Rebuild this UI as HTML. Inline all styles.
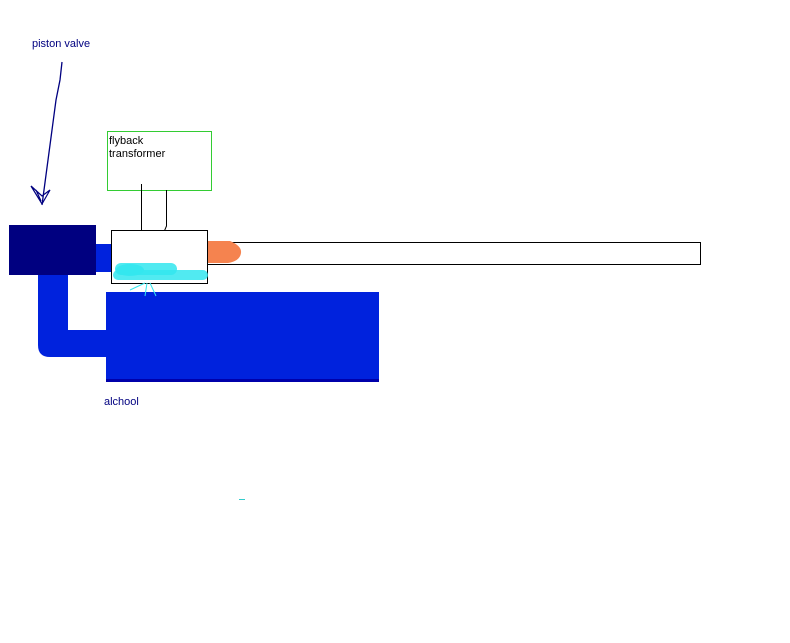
<!DOCTYPE html>
<html><head><meta charset="utf-8"><style>
html,body{margin:0;padding:0;background:#fff;}
svg{display:block;}
text{font-family:"Liberation Sans",sans-serif;font-size:11px;}
</style></head><body>
<svg width="790" height="643" viewBox="0 0 790 643" xmlns="http://www.w3.org/2000/svg">
<rect width="790" height="643" fill="#fff"/>
<text x="32" y="47" fill="#000080">piston valve</text>
<path d="M62,62 L60,80 L56,100 L52,130 L48,160 L44,190 L42,205" stroke="#000080" stroke-width="1.3" fill="none"/>
<path d="M31,186 L42,204 L50,190 L42,196 Z M36,190 L41,201" stroke="#000080" stroke-width="1.2" fill="none"/>
<rect x="107.5" y="131.5" width="104" height="59" fill="none" stroke="#33cc33" stroke-width="1"/>
<text x="109" y="144" fill="#000">flyback</text>
<text x="109" y="157" fill="#000">transformer</text>
<path d="M141.5,184 L141.5,236" stroke="#000" stroke-width="1"/>
<path d="M166.5,190 L166.5,226 L163.5,233" stroke="#000" stroke-width="1" fill="none"/>
<path d="M142,236 L160,236 L163,240 M147,238 L157,238" stroke="#0022dd" stroke-width="2" fill="none"/>
<!-- pipe -->
<path d="M38,272 L68,272 L68,330 L106,330 L106,357 L50,357 Q38,357 38,345 Z" fill="#0022dd"/>
<rect x="9" y="225" width="87" height="50" fill="#000080"/>
<rect x="96" y="244" width="15" height="28" fill="#0022dd"/>
<!-- tank -->
<rect x="106" y="292" width="273" height="90" fill="#0022dd"/>
<rect x="106" y="379" width="273" height="3" fill="#0000aa"/>
<!-- chamber -->
<rect x="111.5" y="230.5" width="96" height="53" fill="#fff" stroke="#000" stroke-width="1"/>
<ellipse cx="130" cy="270" rx="14" ry="6" fill="#33e6ee" opacity="0.85"/>
<rect x="115" y="263" width="62" height="12" rx="6" fill="#33e6ee" opacity="0.85"/>
<rect x="113" y="270" width="95" height="10" rx="5" fill="#33e6ee" opacity="0.85"/>
<path d="M145,283 L130,290 M147,283 L145,296 M150,283 L156,296" stroke="#33e6ee" stroke-width="1"/>
<!-- barrel -->
<rect x="207.5" y="242.5" width="493" height="22" fill="#fff" stroke="#000" stroke-width="1"/>
<path d="M208,241 L230,241 Q242,246 241,253 Q240,261 228,263 L208,263 Z" fill="#f5834f"/>
<text x="104" y="405" fill="#000080">alchool</text>
<rect x="239" y="499" width="6" height="1" fill="#33cccc"/>
</svg>
</body></html>
